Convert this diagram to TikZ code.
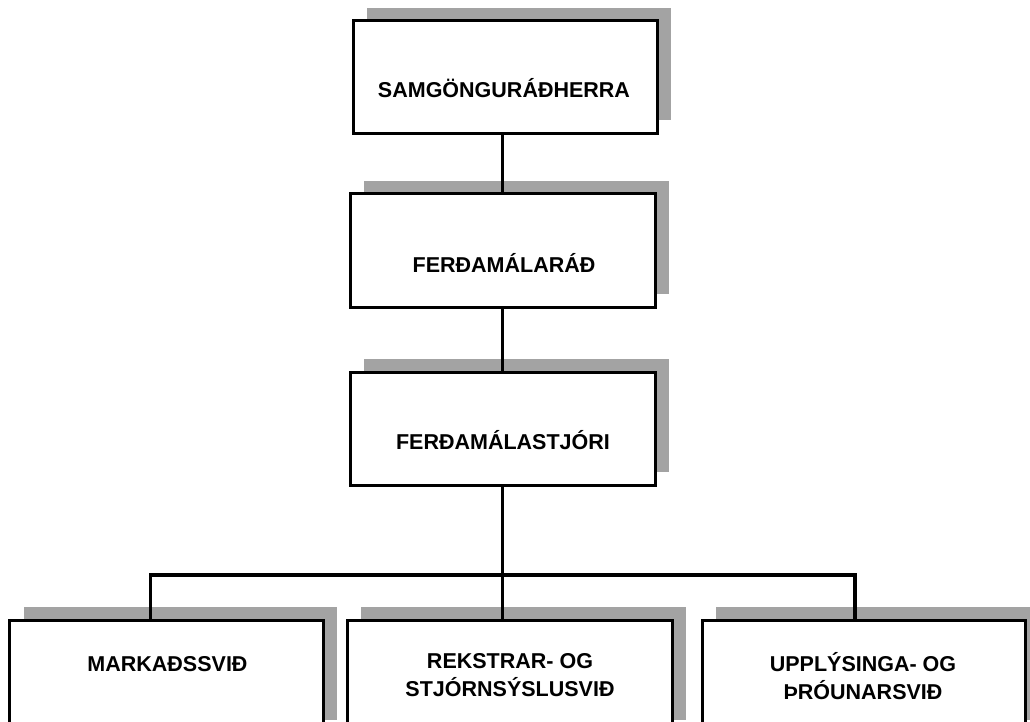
\documentclass[tikz,border=0pt]{standalone}
\usepackage{fontspec}
\setmainfont{Liberation Sans}
\begin{document}
\begin{tikzpicture}[x=1bp,y=-1bp,
  orgbox/.style={draw=black, fill=white, line width=3bp, rectangle, inner sep=0pt},
  shadowbox/.style={fill=black!36, draw=none, rectangle, inner sep=0pt},
  lbl/.style={font=\fontsize{21.5bp}{28bp}\selectfont\bfseries, inner sep=0pt, align=center, anchor=base},
  conn/.style={line width=3.2bp, line cap=rect}]
\useasboundingbox (0,0) rectangle (1030,722);
\clip (0,0) rectangle (1030,722);
% shadows
\node[shadowbox, minimum width=304bp, minimum height=112bp] (s1) at (519,64) {};
\node[shadowbox, minimum width=305bp, minimum height=113bp] (s2) at (516.5,237.5) {};
\node[shadowbox, minimum width=305bp, minimum height=113bp] (s3) at (516.5,415.5) {};
\node[shadowbox, minimum width=313bp, minimum height=113bp] (s4) at (180.5,663) {};
\node[shadowbox, minimum width=325bp, minimum height=113bp] (s5) at (523.5,663) {};
\node[shadowbox, minimum width=323bp, minimum height=113bp] (s6) at (877.5,663) {};
% boxes
\node[orgbox, minimum width=304bp, minimum height=112bp] (b1) at (505,77) {};
\node[orgbox, minimum width=305bp, minimum height=113bp] (b2) at (502.5,250.5) {};
\node[orgbox, minimum width=305bp, minimum height=113bp] (b3) at (502.5,428.5) {};
\node[orgbox, minimum width=313bp, minimum height=113bp] (bl) at (166.5,676.5) {};
\node[orgbox, minimum width=325bp, minimum height=113bp] (bm) at (509.5,676.5) {};
\node[orgbox, minimum width=323bp, minimum height=113bp] (br) at (863.5,676.5) {};
% labels
\node[lbl] (t1) at (504,97.7) {SAMGÖNGURÁÐHERRA};
\node[lbl] (t2) at (504,272.7) {FERÐAMÁLARÁÐ};
\node[lbl] (t3) at (503,449.4) {FERÐAMÁLASTJÓRI};
\node[lbl] (tl) at (167.5,671) {MARKAÐSSVIÐ};
\node[lbl] (tm) at (510,696) {REKSTRAR- OG\\STJÓRNSÝSLUSVIÐ};
\node[lbl] (tr) at (863,699.4) {UPPLÝSINGA- OG\\ÞRÓUNARSVIÐ};
% connectors
\coordinate (bus) at (502.5,575);
\draw[conn] (b2.north) -- (b2.north |- b1.south);
\draw[conn] (b2.south) -- (b3.north);
\draw[conn] (b3.south) -- (b3.south |- bm.north);
\draw[conn] ([xshift=-15.8bp]bl.north) |- (bus) -| ([xshift=-8.5bp]br.north);
\end{tikzpicture}
\end{document}
